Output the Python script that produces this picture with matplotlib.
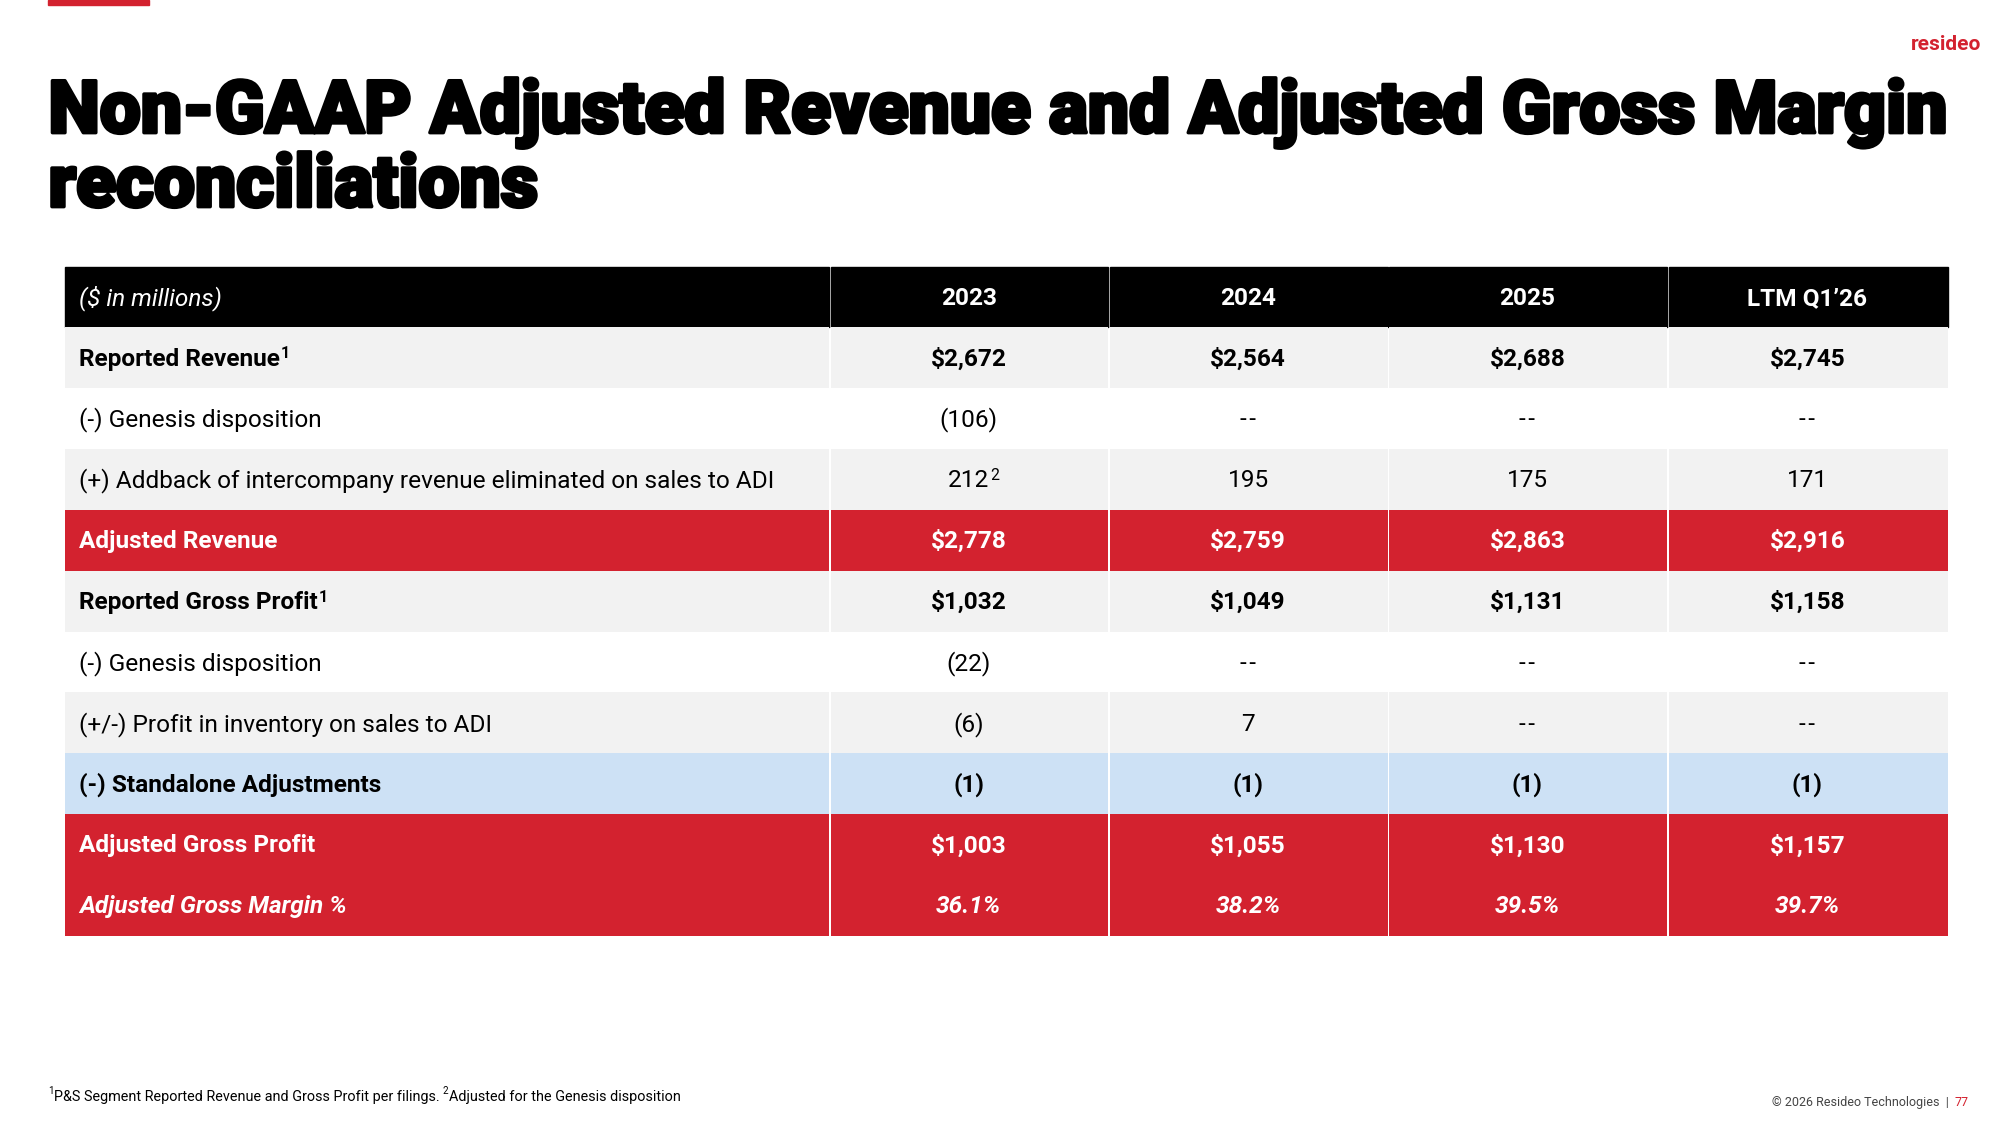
import matplotlib
matplotlib.use("Agg")
import matplotlib.pyplot as plt
from matplotlib.patches import Rectangle
import matplotlib.patheffects as pe

plt.rcParams["font.family"] = ["Roboto", "DejaVu Sans"]

DASH = "-\u200a-"
columns = ["2023", "2024", "2025", "LTM Q1\u201926"]
row_labels = [
    "Reported Revenue", "(-) Genesis disposition",
    "(+) Addback of intercompany revenue eliminated on sales to ADI",
    "Adjusted Revenue", "Reported Gross Profit", "(-) Genesis disposition",
    "(+/-) Profit in inventory on sales to ADI", "(-) Standalone Adjustments",
    "Adjusted Gross Profit", "Adjusted Gross Margin %",
]
label_sup = ["1", "", "", "", "1", "", "", "", "", ""]
values = [
    ["$2,672", "$2,564", "$2,688", "$2,745"],
    ["(106)", DASH, DASH, DASH],
    ["212", "195", "175", "171"],
    ["$2,778", "$2,759", "$2,863", "$2,916"],
    ["$1,032", "$1,049", "$1,131", "$1,158"],
    ["(22)", DASH, DASH, DASH],
    ["(6)", "7", DASH, DASH],
    ["(1)", "(1)", "(1)", "(1)"],
    ["$1,003", "$1,055", "$1,130", "$1,157"],
    ["36.1%", "38.2%", "39.5%", "39.7%"],
]
row_style = ["gray", "white", "gray", "red", "gray", "white", "gray", "blue", "red", "red"]
row_bold = [True, False, False, True, True, False, False, True, True, True]

RED = "#d3222f"
fills = {"gray": "#f2f2f2", "white": "#ffffff", "red": RED, "blue": "#cde1f5"}

W, H = 1568, 882
fig = plt.figure(figsize=(20, 11.25), dpi=100)
ax = fig.add_axes([0, 0, 1, 1])
ax.set_xlim(0, W)
ax.set_ylim(H, 0)
ax.axis("off")

ax.add_patch(Rectangle((38, 0), 79, 4, color=RED))
ax.text(1553, 35, "resideo", color=RED, fontsize=15, fontweight="bold", ha="right", va="center")
heavy = [pe.withStroke(linewidth=2.5, foreground="black")]
ax.text(38, 104, "Non-GAAP Adjusted Revenue and Adjusted Gross Margin", fontsize=52.6,
        fontweight="black", ha="left", va="baseline", color="black", path_effects=heavy)
ax.text(38, 162, "reconciliations", fontsize=52.6, fontweight="black", ha="left", va="baseline",
        path_effects=heavy)

col_x = [51, 650, 869, 1088, 1307, 1527]
top, rh, gap = 209, 47.7, 1.2
fs = 17.6

fig.canvas.draw()
rend = fig.canvas.get_renderer()
inv = ax.transData.inverted()


def put_sup(t, s, color, fsize):
    bb = t.get_window_extent(rend)
    x1, _ = inv.transform((bb.x1, bb.y0))
    _, y = inv.transform((bb.x1, bb.y1))
    ax.text(x1 + 0.5, y - 1, s, fontsize=fsize * 0.65, color=color, ha="left", va="top",
            fontweight=t.get_fontweight())


# header
for j in range(5):
    ax.add_patch(Rectangle((col_x[j] + (gap if j else 0), top), col_x[j + 1] - col_x[j] - (gap if j else 0),
                           rh, color="black"))
yc = top + rh / 2 + 1
ax.text(62, yc, "($ in millions)", color="white", fontsize=fs, style="italic", va="center")
for j, c in enumerate(columns):
    ax.text((col_x[j + 1] + col_x[j + 2]) / 2, yc, c, color="white", fontsize=fs,
            fontweight="bold", ha="center", va="center")

for i, lab in enumerate(row_labels):
    y0 = top + rh * (i + 1)
    st = row_style[i]
    for j in range(5):
        x0 = col_x[j] + (gap if j else 0)
        ax.add_patch(Rectangle((x0, y0), col_x[j + 1] - x0, rh, color=fills[st], lw=0))
    color = "white" if st == "red" else "black"
    wt = "bold" if row_bold[i] else "normal"
    sty = "italic" if i == len(row_labels) - 1 else "normal"
    yc = y0 + rh / 2 + 1
    t = ax.text(62, yc, lab, color=color, fontsize=fs, fontweight=wt, style=sty, va="center")
    fig.canvas.draw()
    if label_sup[i]:
        put_sup(t, label_sup[i], color, fs)
    for j, v in enumerate(values[i]):
        t = ax.text((col_x[j + 1] + col_x[j + 2]) / 2, yc, v, color=color, fontsize=fs,
                    fontweight=wt, style=sty, ha="center", va="center")
        if i == 2 and j == 0:
            put_sup(t, "2", color, fs)

# footnotes
t = ax.text(42, 860, "P&S Segment Reported Revenue and Gross Profit per filings. ", fontsize=10.4, va="center")
ax.text(38, 855, "1", fontsize=7, va="center")
fig.canvas.draw()
bb = t.get_window_extent(rend)
xe = inv.transform((bb.x1, bb.y0))[0]
ax.text(xe, 855, "2", fontsize=7, va="center")
ax.text(xe + 5, 860, "Adjusted for the Genesis disposition", fontsize=10.4, va="center")
ax.text(1543, 864, "77", fontsize=9, color=RED, ha="right", va="center")
ax.text(1528, 864, "\u00a9 2026 Resideo Technologies  |", fontsize=9, color="#444444", ha="right", va="center")

fig.savefig("out.png", dpi=100)
